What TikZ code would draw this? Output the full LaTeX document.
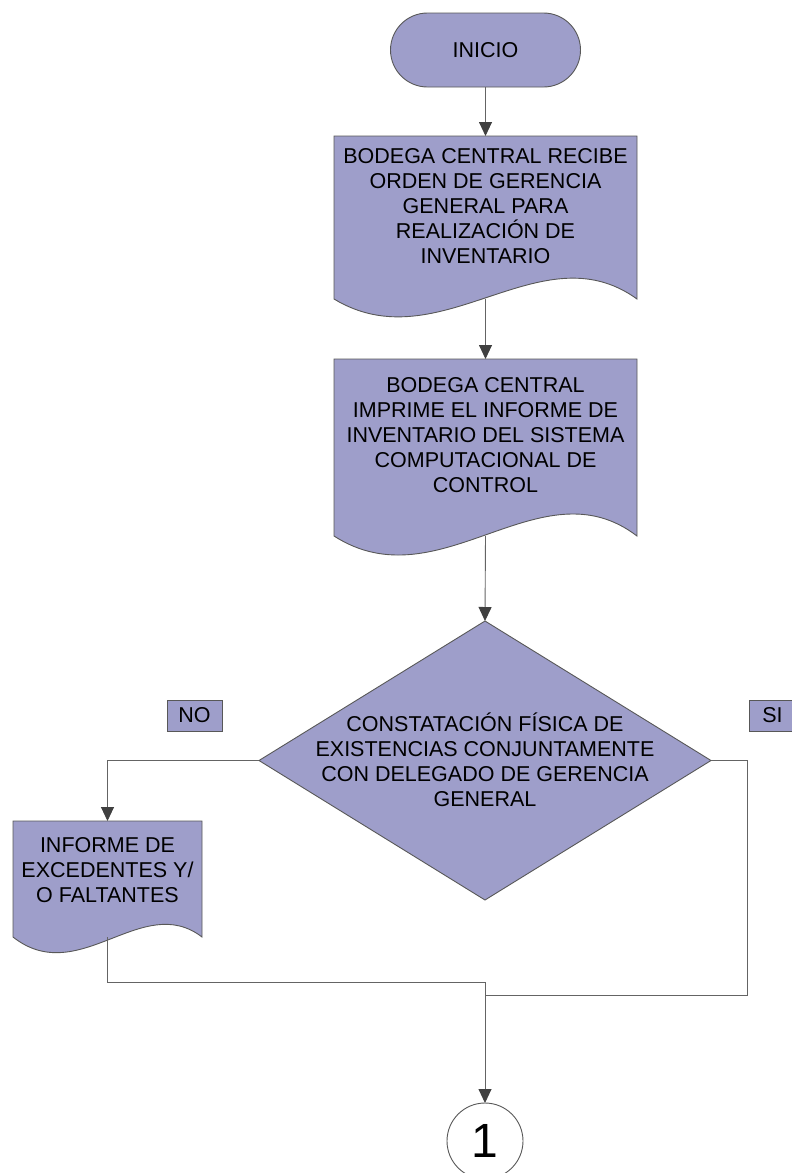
\documentclass[tikz,border=0pt]{standalone}
\usepackage{fontspec}
\setmainfont{Liberation Sans}
\usetikzlibrary{arrows.meta,shapes.geometric,calc}
\definecolor{boxfill}{RGB}{158,158,202}
\definecolor{edge}{RGB}{88,88,88}
\definecolor{wire}{RGB}{100,100,100}
\definecolor{tip}{RGB}{64,64,64}

\begin{document}
\begin{tikzpicture}[x=1pt,y=-1pt,
  every node/.style={font=\fontsize{21.5}{25}\selectfont, inner sep=0pt, outer sep=0pt},
  shapeline/.style={draw=edge, fill=boxfill, line width=0.9pt},
  terminal/.style={shapeline, rounded corners=37pt, minimum width=190pt, minimum height=74pt},
  docbody/.style={draw=none, rectangle},
  txt/.style={align=center},
  tag/.style={shapeline, rectangle, minimum height=31pt},
  decision/.style={shapeline, diamond, minimum width=452pt, minimum height=279pt},
  connector/.style={draw=edge, line width=0.9pt, circle, minimum size=76pt, font=\fontsize{48}{48}\selectfont},
  wireline/.style={draw=wire, line width=0.9pt},
  arr/.style={wireline, -{Triangle[width=13pt,length=14pt,color=tip]}}
]
\useasboundingbox (0,0) rectangle (792,1173);

% start
\node[terminal] (ini) at (485.5,50) {INICIO};

% first document
\node[docbody, minimum width=303pt, minimum height=163pt] (d1) at (485.5,217.5) {};
\path[shapeline] (d1.north west) -- (d1.north east) -- (d1.south east)
  .. controls ($(d1.south east)+(-97,-70)$) and ($(d1.south west)+(106,64)$) .. (d1.south west) -- cycle;
\node[txt] (t1) at (485.5,206) {BODEGA CENTRAL RECIBE\\ORDEN DE GERENCIA\\GENERAL PARA\\REALIZACIÓN DE\\INVENTARIO};

% second document
\node[docbody, minimum width=303pt, minimum height=177pt] (d2) at (485.5,447.5) {};
\path[shapeline] (d2.north west) -- (d2.north east) -- (d2.south east)
  .. controls ($(d2.south east)+(-97,-74)$) and ($(d2.south west)+(106,68)$) .. (d2.south west) -- cycle;
\node[txt] (t2) at (485.5,435) {BODEGA CENTRAL\\IMPRIME EL INFORME DE\\INVENTARIO DEL SISTEMA\\COMPUTACIONAL DE\\CONTROL};

% decision
\node[decision] (dec) at (485,760.5) {};
\node[txt] (tdec) at (485,760) {CONSTATACIÓN FÍSICA DE\\EXISTENCIAS CONJUNTAMENTE\\CON DELEGADO DE GERENCIA\\GENERAL};

% branch tags
\node[tag, minimum width=55pt] (no) at (194.5,715.5) {NO};
\node[tag, minimum width=47pt] (si) at (772.5,715.5) {SI};

% report of differences
\node[docbody, minimum width=189pt, minimum height=116pt] (d3) at (107.5,879) {};
\path[shapeline] (d3.north west) -- (d3.north east) -- (d3.south east)
  .. controls ($(d3.south east)+(-60,-46)$) and ($(d3.south west)+(66,52)$) .. (d3.south west) -- cycle;
\node[txt] (t3) at (107.5,870) {INFORME DE\\EXCEDENTES Y/\\O FALTANTES};

% off-page connector
\node[connector] (c1) at (485,1141) {1};

% joining points
\coordinate (joinhigh) at (485,982);
\coordinate (siturn) at (747,995);
\coordinate (joinlow) at (485,995);

% flow
\draw[arr] (ini.south) -- (d1.north);
\draw[arr] (d1.south) -- (d2.north);
\draw[arr] (d2.south) -- (dec.north);
\draw[arr] (dec.west) -| (d3.north);
\draw[wireline] (d3.south) |- (joinhigh);
\draw[wireline] (dec.east) -| (siturn) -- (joinlow);
\draw[arr] (joinhigh) -- (c1.north);
\end{tikzpicture}
\end{document}
